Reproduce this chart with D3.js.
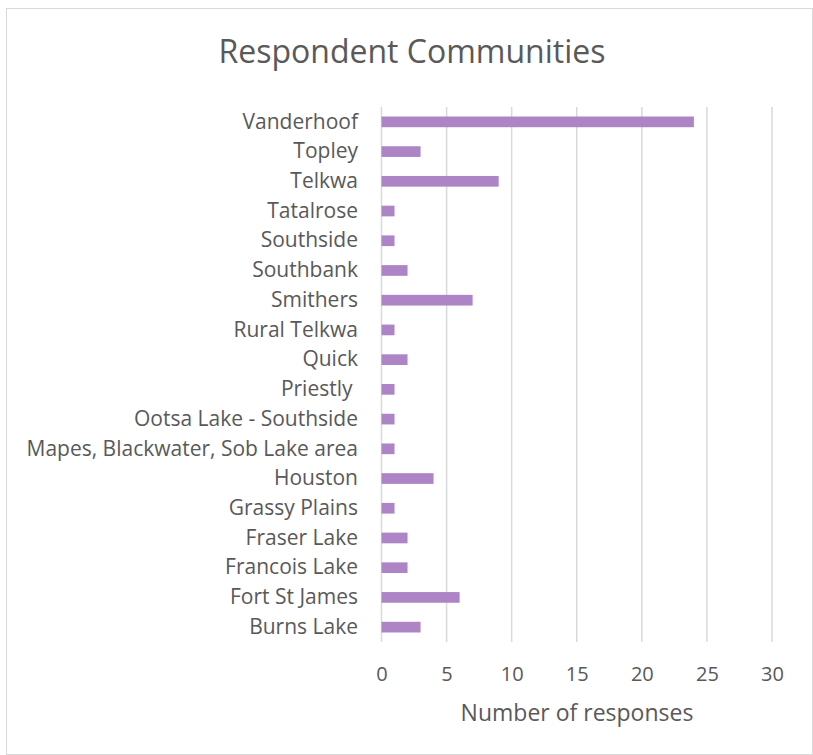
<!DOCTYPE html>
<html><head><meta charset="utf-8">
<script src="https://cdn.jsdelivr.net/npm/d3@7"></script>
<style>body{margin:0;background:#fff}svg{display:block}text{font-family:"Open Sans",sans-serif;fill:#595959}</style>
</head><body>
<script>
const categories = ["Vanderhoof","Topley","Telkwa","Tatalrose","Southside","Southbank","Smithers","Rural Telkwa","Quick","Priestly ","Ootsa Lake - Southside","Mapes, Blackwater, Sob Lake area","Houston","Grassy Plains","Fraser Lake","Francois Lake","Fort St James","Burns Lake"];
const values = [24,3,9,1,1,2,7,1,2,1,1,1,4,1,2,2,6,3];
const xTicks = [0,5,10,15,20,25,30];
const title = "Respondent Communities";
const xTitle = "Number of responses";

const W = 813, H = 755;
const svg = d3.select("body").append("svg").attr("width", W).attr("height", H);
svg.append("rect").attr("x",6.5).attr("y",8.5).attr("width",W-7).attr("height",H-9)
  .attr("fill","#fff").attr("stroke","#d9d9d9");

const x = d3.scaleLinear().domain([0,30]).range([381.5,772]);
const y = d3.scaleBand().domain(categories).range([107,642]).paddingInner(0.64).paddingOuter(0.32);

svg.append("g").selectAll("line").data(xTicks).join("line")
  .attr("x1",d=>x(d)).attr("x2",d=>x(d)).attr("y1",107).attr("y2",642)
  .attr("stroke","#d9d9d9").attr("stroke-width",1.5);

svg.append("g").selectAll("rect").data(categories).join("rect")
  .attr("x",x(0)).attr("y",d=>y(d)).attr("height",y.bandwidth())
  .attr("width",(d,i)=>x(values[i])-x(0)).attr("fill","#ad85c6");

const yAxis = svg.append("g").attr("transform",`translate(${x(0)-23.5},0)`)
  .call(d3.axisLeft(y).tickSize(0).tickPadding(0));
yAxis.select(".domain").remove();
yAxis.selectAll("text").attr("font-size",21).style("white-space","pre").attr("fill","#595959");

const xAxis = svg.append("g").attr("transform","translate(0,667)")
  .call(d3.axisBottom(x).tickValues(xTicks).tickSize(0).tickPadding(0));
xAxis.select(".domain").remove();
xAxis.selectAll("text").attr("font-size",20).attr("fill","#595959").attr("dy","0.71em");

svg.append("text").attr("x",577).attr("y",721).attr("text-anchor","middle")
  .attr("font-size",23).text(xTitle);
svg.append("text").attr("x",412).attr("y",63).attr("text-anchor","middle")
  .attr("font-size",32).text(title);
</script>
</body></html>
